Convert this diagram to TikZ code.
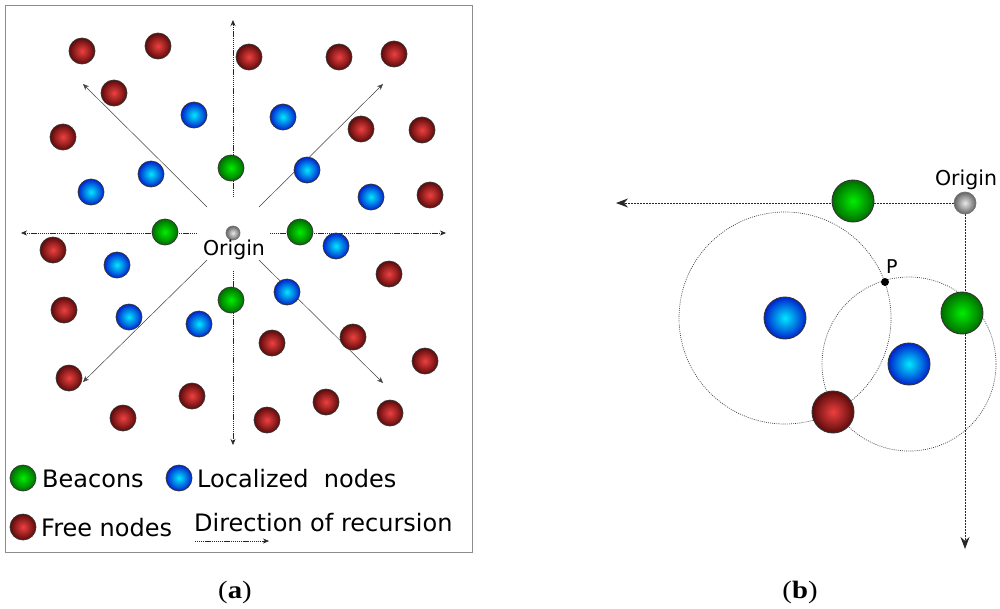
\documentclass[tikz,border=0pt]{standalone}
\usepackage{fontspec}
\usepackage{graphicx}
\usetikzlibrary{arrows.meta,backgrounds}
\newfontfamily\dv{DejaVu Sans}
\newfontfamily\tms{Liberation Serif}
\definecolor{redin}{RGB}{238,64,64}
\definecolor{redout}{RGB}{92,10,10}
\definecolor{bluein}{RGB}{0,232,255}
\definecolor{blueout}{RGB}{0,34,205}
\definecolor{greenin}{RGB}{0,238,0}
\definecolor{greenout}{RGB}{0,108,0}
\definecolor{grayin}{RGB}{232,232,232}
\definecolor{grayout}{RGB}{100,100,100}
\begin{document}
\begin{tikzpicture}[x=1pt,y=-1pt,
  sphere/.style={circle, inner sep=0pt, minimum size=26pt, draw=black!80, line width=0.7pt},
  rb/.style={sphere, inner color=redin, outer color=redout},
  bb/.style={sphere, inner color=bluein, outer color=blueout},
  gb/.style={sphere, inner color=greenin, outer color=greenout},
  ob/.style={sphere, minimum size=14pt, inner color=grayin, outer color=grayout, draw=black!55},
  bigsphere/.style={minimum size=42pt, line width=0.9pt},
  dirline/.style={black!85, line width=0.6pt, dash pattern=on 1.2pt off 0.7pt, -{Stealth[length=6pt,width=5pt]}},
  diagline/.style={black!75, line width=0.5pt, -{Stealth[length=6pt,width=5pt]}},
  rline/.style={black!85, line width=1pt, dash pattern=on 2pt off 1pt},
  rarrow/.style={rline, -{Stealth[length=12pt,width=9pt]}},
  rangecirc/.style={black!75, line width=0.7pt, dash pattern=on 0.9pt off 1.2pt},
  labtxt/.style={font=\dv\fontsize{24}{28}\selectfont, inner sep=0pt},
  origtxt/.style={font=\dv\fontsize{20.5}{24}\selectfont, inner sep=0pt},
  ptxt/.style={font=\dv\fontsize{19}{22}\selectfont, inner sep=0pt},
  captxt/.style={font=\tms\fontsize{25}{30}\selectfont, inner sep=0pt}
]
\useasboundingbox (0,0) rectangle (1000,608);

% ---------- panel (a) ----------
\draw[black!45, line width=1pt] (5,5) rectangle (472,552);

% arrow coordinates
\coordinate (uS) at (233,197); \coordinate (uE) at (233,20);
\coordinate (dS) at (233,271); \coordinate (dE) at (233,445);
\coordinate (lS) at (197,233); \coordinate (lE) at (21,233);
\coordinate (rS) at (270,233); \coordinate (rE) at (446,233);
\coordinate (ulS) at (207,207); \coordinate (ulE) at (83,84);
\coordinate (urS) at (259,207); \coordinate (urE) at (383,84);
\coordinate (dlS) at (207,260); \coordinate (dlE) at (83,382);
\coordinate (drS) at (259,260); \coordinate (drE) at (383,383);

\draw[dirline] (uS) -- (uE);
\draw[dirline] (dS) -- (dE);
\draw[dirline] (lS) -- (lE);
\draw[dirline] (rS) -- (rE);
\draw[diagline] (ulS) -- (ulE);
\draw[diagline] (urS) -- (urE);
\draw[diagline] (dlS) -- (dlE);
\draw[diagline] (drS) -- (drE);

% free nodes
\node[rb] (r1) at (82,51) {};
\node[rb] (r2) at (158,46) {};
\node[rb] (r3) at (249,57) {};
\node[rb] (r4) at (339,57) {};
\node[rb] (r5) at (394,54) {};
\node[rb] (r6) at (114,93) {};
\node[rb] (r7) at (63,137) {};
\node[rb] (r8) at (361,129) {};
\node[rb] (r9) at (422,130) {};
\node[rb] (r10) at (430,195) {};
\node[rb] (r11) at (53,250) {};
\node[rb] (r12) at (389,274) {};
\node[rb] (r13) at (64,310) {};
\node[rb] (r14) at (69,378) {};
\node[rb] (r15) at (123,418) {};
\node[rb] (r16) at (192,396) {};
\node[rb] (r17) at (272,343) {};
\node[rb] (r18) at (267,420) {};
\node[rb] (r19) at (353,337) {};
\node[rb] (r20) at (326,402) {};
\node[rb] (r21) at (390,413) {};
\node[rb] (r22) at (425,361) {};
% localized nodes
\node[bb] (b1) at (194,115) {};
\node[bb] (b2) at (283,117) {};
\node[bb] (b3) at (151,174) {};
\node[bb] (b4) at (91,192) {};
\node[bb] (b5) at (307,170) {};
\node[bb] (b6) at (371,197) {};
\node[bb] (b7) at (336,246) {};
\node[bb] (b8) at (117,265) {};
\node[bb] (b9) at (287,292) {};
\node[bb] (b10) at (129,317) {};
\node[bb] (b11) at (199,324) {};
% beacons
\node[gb] (g1) at (231,168) {};
\node[gb] (g2) at (165,232) {};
\node[gb] (g3) at (300,232) {};
\node[gb] (g4) at (231,300) {};
% origin
\node[ob] (o) at (233,233) {};
\node[origtxt, anchor=base] (otext) at (234,255) {Origin};

% legend
\node[gb] (lg) at (23,478) {};
\node[labtxt, anchor=base west] (lgt) at (42,487) {Beacons};
\node[bb] (lbl) at (179,478) {};
\node[labtxt, anchor=base west] (lblt) at (197,487) {Localized\ \ nodes};
\node[rb] (lr) at (23,527) {};
\node[labtxt, anchor=base west] (lrt) at (41,536) {Free nodes};
\node[labtxt, anchor=base west] (ldt) at (194,531) {Direction of recursion};
\coordinate (laS) at (195,541); \coordinate (laE) at (269,541);
\draw[dirline] (laS) -- (laE);

\node[captxt, anchor=base] (capa) at (235,598) {\scalebox{1.15}[1]{({\bfseries a})}};

% ---------- panel (b) ----------
\node[ob, minimum size=22pt] (O2) at (965,203) {};
\node[origtxt, anchor=base] (O2t) at (966,185) {Origin};
\node[gb, bigsphere] (G1) at (853,201) {};
\node[gb, bigsphere] (G2) at (962,313) {};
\node[bb, bigsphere] (B1) at (785,318) {};
\node[bb, bigsphere] (B2) at (909,364) {};
\node[rb, bigsphere] (R1) at (833,412) {};
\node[circle, fill=black, inner sep=0pt, minimum size=8pt] (P) at (885,282) {};
\node[ptxt, anchor=base west] (Pt) at (886,273) {P};
\coordinate (hE) at (616,203);
\coordinate (vE) at (965,549);
\begin{pgfonlayer}{background}
\fill[white] (0,0) rectangle (1000,608);
\draw[rangecirc] (B1.center) circle[radius=106];
\draw[rangecirc] (B2.center) circle[radius=87];
\draw[rarrow] (O2) -- (hE);
\draw[rarrow] (O2) -- (vE);
\end{pgfonlayer}

\node[captxt, anchor=base] (capb) at (800,598) {\scalebox{1.15}[1]{({\bfseries b})}};
\end{tikzpicture}
\end{document}
